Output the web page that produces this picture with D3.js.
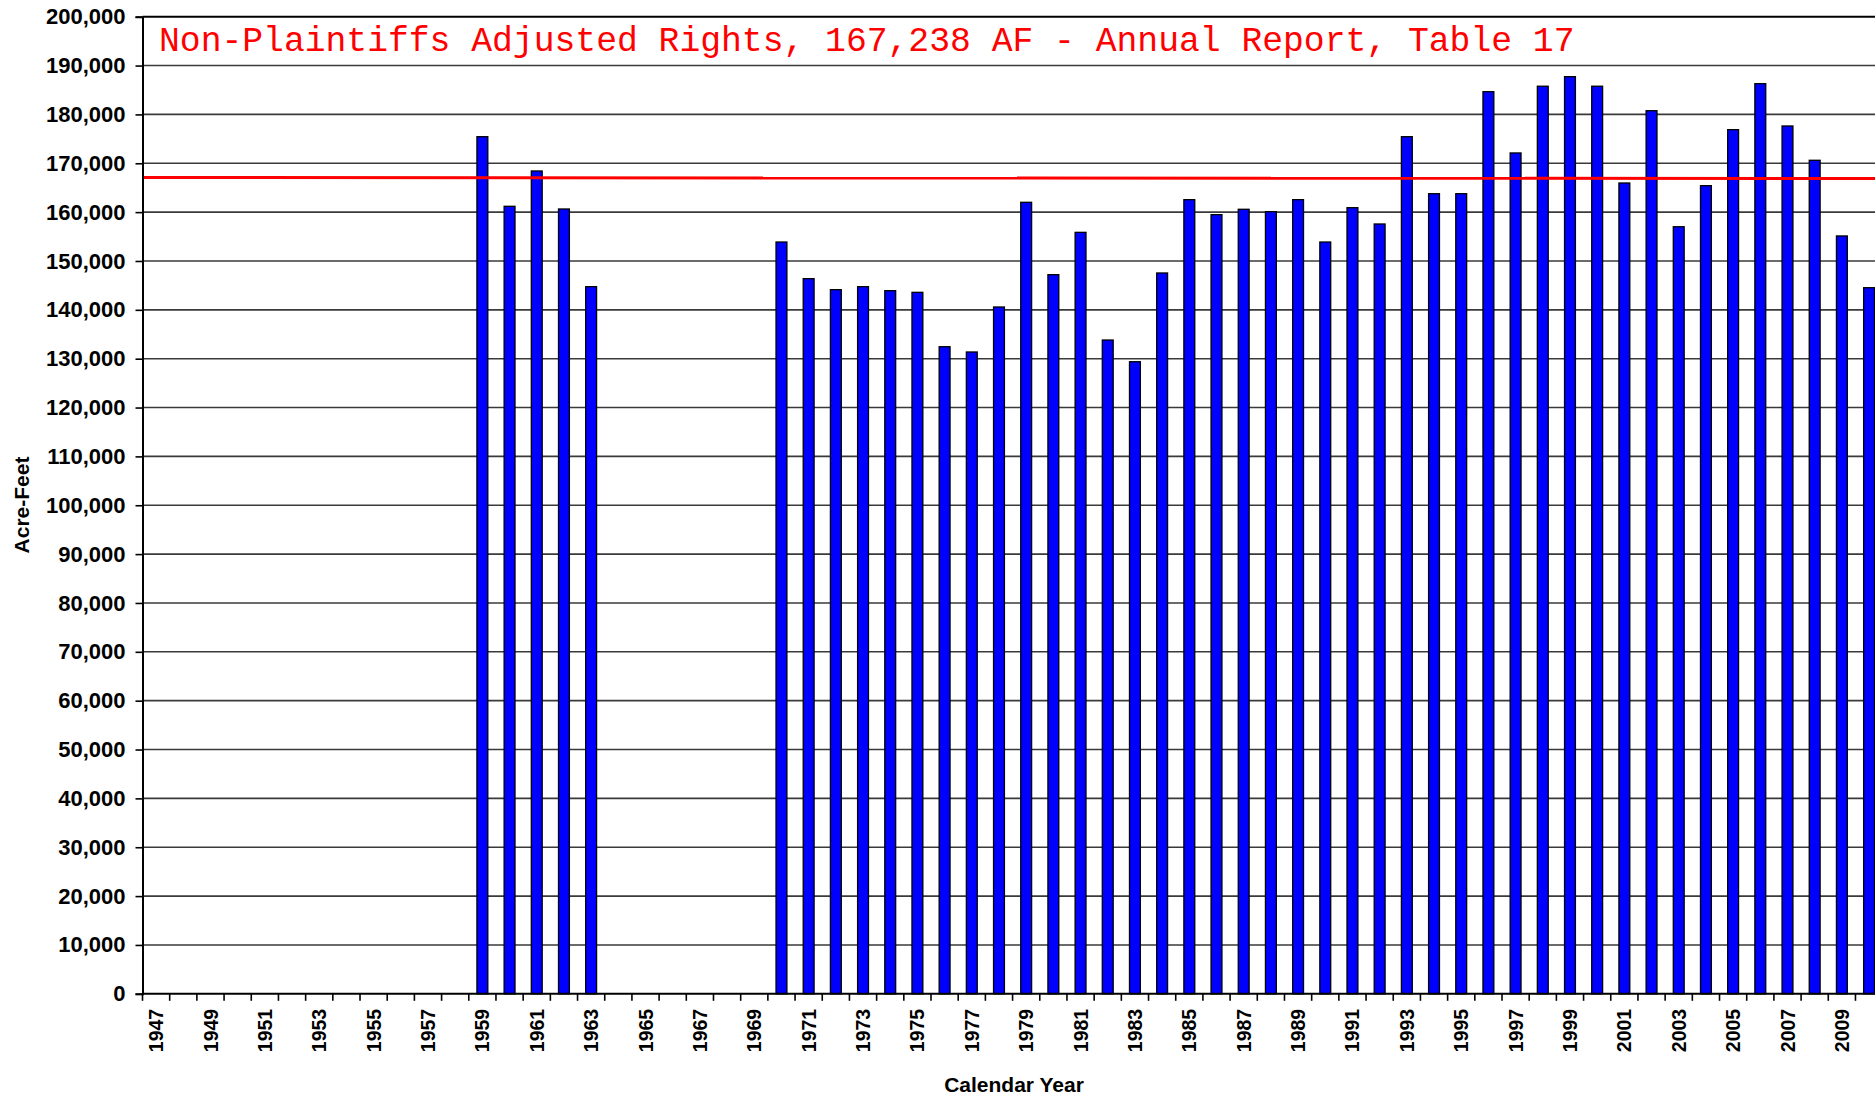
<!DOCTYPE html>
<html>
<head>
<meta charset="utf-8">
<script src="https://cdn.jsdelivr.net/npm/d3@7"></script>
<style>
  body { margin: 0; background: #fff; }
  svg { display: block; }
</style>
</head>
<body>
<div id="chart"></div>
<script>
// Calendar years on the x axis (the chart is cut off at the right, after 2010)
const years = d3.range(1947, 2011);

// Acre-feet per year, null where no bar is drawn
const acreFeet = [
  null, null, null, null, null, null, null, null, null, null, null, null, // 1947-1958
  175440, 161190, 168420, 160640, 144740,                                 // 1959-1963
  null, null, null, null, null, null,                                     // 1964-1969
  153880, 146380, 144130, 144740, 143920, 143580, 132450, 131370, 140580, 162010, // 1970-1979
  147200, 155860, 133820, 129380, 147540, 162550, 159480, 160580, 160090, 162550, // 1980-1989
  153880, 160910, 157570, 175440, 163770, 163770, 184650, 172110, 185770, 187730, // 1990-1999
  185770, 165960, 180760, 157010, 165410, 176880, 186290, 177630, 170610, 155120, // 2000-2009
  144530                                                                  // 2010
];

// Non-plaintiffs adjusted rights reference line
const adjustedRights = 167238;

const yTicks = d3.range(0, 200001, 10000);
const titleText = "Non-Plaintiffs Adjusted Rights, 167,238 AF - Annual Report, Table 17";

const width = 1875,
      height = 1095;

const plotLeft = 142.5,
      plotTop = 16.7,
      plotBottom = 993.8,
      step = 27.19;

const svg = d3.select("#chart").append("svg")
    .attr("width", width)
    .attr("height", height)
    .attr("viewBox", [0, 0, width, height]);

// category slots (no padding) for tick marks, padded band for bars (gap width 150%)
const xCat = d3.scaleBand()
    .domain(years)
    .range([plotLeft, plotLeft + years.length * step]);

const x = d3.scaleBand()
    .domain(years)
    .range([plotLeft, plotLeft + years.length * step])
    .paddingInner(0.6)
    .paddingOuter(0.3);

const y = d3.scaleLinear()
    .domain([0, 200000])
    .range([plotBottom, plotTop]);

// Gridlines
svg.append("g")
  .selectAll("line")
  .data(yTicks.filter(d => d > 0))
  .join("line")
    .attr("x1", plotLeft)
    .attr("x2", width)
    .attr("y1", d => y(d))
    .attr("y2", d => y(d))
    .attr("stroke", d => d === 200000 ? "#000" : "#3a3a3a")
    .attr("stroke-width", d => d === 200000 ? 2 : 1.6);

// Bars
const data = years.map((yr, i) => ({ year: yr, value: acreFeet[i] }))
    .filter(d => d.value != null);

svg.append("g")
  .selectAll("rect")
  .data(data)
  .join("rect")
    .attr("x", d => x(d.year))
    .attr("y", d => y(d.value))
    .attr("width", x.bandwidth())
    .attr("height", d => y(0) - y(d.value))
    .attr("fill", "#0000ff")
    .attr("stroke", "#000")
    .attr("stroke-width", 1.3);

// Red reference line
svg.append("line")
    .attr("x1", plotLeft)
    .attr("x2", width)
    .attr("y1", y(adjustedRights) + 0.8)
    .attr("y2", y(adjustedRights) + 1.8)
    .attr("stroke", "#ff0000")
    .attr("stroke-width", 3);

// Y axis
const yAxis = svg.append("g")
    .attr("transform", `translate(${plotLeft},0)`)
    .call(d3.axisLeft(y)
      .tickValues(yTicks)
      .tickFormat(d3.format(","))
      .tickSize(7)
      .tickPadding(10));

yAxis.select(".domain").attr("stroke", "#000").attr("stroke-width", 2);
yAxis.selectAll(".tick line").attr("stroke", "#000").attr("stroke-width", 1.6);
yAxis.selectAll("text")
    .attr("font-family", "'Liberation Sans', Arial, sans-serif")
    .attr("font-weight", "bold")
    .attr("font-size", "22px")
    .attr("fill", "#000");

// X axis line and boundary ticks
svg.append("line")
    .attr("x1", plotLeft)
    .attr("x2", width)
    .attr("y1", plotBottom)
    .attr("y2", plotBottom)
    .attr("stroke", "#000")
    .attr("stroke-width", 2);

svg.append("g")
  .selectAll("line")
  .data(years)
  .join("line")
    .attr("x1", d => xCat(d))
    .attr("x2", d => xCat(d))
    .attr("y1", plotBottom)
    .attr("y2", plotBottom + 7)
    .attr("stroke", "#000")
    .attr("stroke-width", 1.6);

// X tick labels, every other year, rotated
svg.append("g")
  .selectAll("text")
  .data(years.filter(d => (d - 1947) % 2 === 0))
  .join("text")
    .attr("transform", d => `translate(${xCat(d) + xCat.bandwidth() / 2},${plotBottom + 15}) rotate(-90)`)
    .attr("dy", "0.36em")
    .attr("text-anchor", "end")
    .attr("font-family", "'Liberation Sans', Arial, sans-serif")
    .attr("font-weight", "bold")
    .attr("font-size", "19.5px")
    .text(d => d);

// Axis titles
svg.append("text")
    .attr("transform", "translate(29,505) rotate(-90)")
    .attr("text-anchor", "middle")
    .attr("font-family", "'Liberation Sans', Arial, sans-serif")
    .attr("font-weight", "bold")
    .attr("font-size", "21px")
    .text("Acre-Feet");

svg.append("text")
    .attr("x", 1014)
    .attr("y", 1092)
    .attr("text-anchor", "middle")
    .attr("font-family", "'Liberation Sans', Arial, sans-serif")
    .attr("font-weight", "bold")
    .attr("font-size", "21px")
    .text("Calendar Year");

// Chart title inside the plot area
svg.append("text")
    .attr("x", 159)
    .attr("y", 51)
    .attr("font-family", "'Liberation Mono', 'Courier New', monospace")
    .attr("font-size", "34.7px")
    .attr("fill", "#ff0000")
    .text(titleText);
</script>
</body>
</html>
